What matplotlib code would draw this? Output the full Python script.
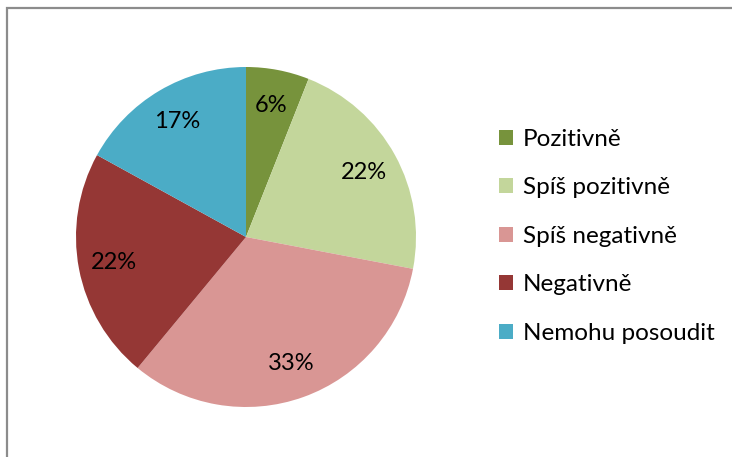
import matplotlib
matplotlib.use("Agg")
import matplotlib.pyplot as plt
from matplotlib.patches import Rectangle, Patch

categories = ["Pozitivně", "Spíš pozitivně", "Spíš negativně", "Negativně", "Nemohu posoudit"]
values = [6, 22, 33, 22, 17]
colors = ["#77933C", "#C3D69B", "#D99694", "#953735", "#4BACC6"]

W, H = 732, 457
fig = plt.figure(figsize=(W / 100, H / 100), dpi=100)
plt.rcParams['font.family'] = ['Lato', 'DejaVu Sans']

# outer frame (only top and left edges visible)
fig.patches.append(Rectangle((7 / W, -0.5), 2, 0.5 + (H - 8) / H, transform=fig.transFigure,
                             fill=False, edgecolor="#8c8c8c", linewidth=1.6))

cx, cy, r = 246, 237, 170
ax = fig.add_axes([(cx - r) / W, (H - cy - r) / H, 2 * r / W, 2 * r / H])
wedges, texts, autotexts = ax.pie(values, colors=colors, startangle=90, counterclock=False,
                                  autopct=lambda p: f"{p:.0f}%", pctdistance=0.79,
                                  radius=1.0, wedgeprops=dict(linewidth=0))
for t in autotexts:
    t.set_fontsize(17)
    t.set_color("black")
ax.set_xlim(-1, 1)
ax.set_ylim(-1, 1)
ax.set_aspect("equal")
ax.axis("off")

handles = [Patch(facecolor=c, edgecolor="none") for c in colors]
leg = fig.legend(handles, categories, loc="upper left",
                 bbox_to_anchor=(499 / W, 1 - 129 / H), frameon=False,
                 fontsize=17.5, handlelength=0.58, handleheight=0.58,
                 handletextpad=0.4, labelspacing=1.13, borderaxespad=0,
                 borderpad=0)

fig.savefig("out.png", dpi=100)
